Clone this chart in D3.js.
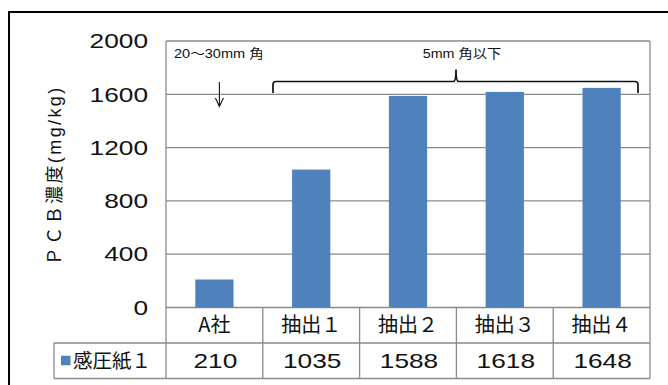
<!DOCTYPE html>
<html>
<head>
<meta charset="utf-8">
<script src="https://cdn.jsdelivr.net/npm/d3@7"></script>
<style>
  html, body { margin: 0; padding: 0; background: #fff; }
  svg { display: block; }
  text { fill: #111; }
</style>
</head>
<body>
<svg id="chart" width="668" height="385"></svg>
<script>
// Chart data
const categories = ["A社", "抽出１", "抽出２", "抽出３", "抽出４"];
const seriesName = "感圧紙１";
const values = [210, 1035, 1588, 1618, 1648];
const yTicks = [0, 400, 800, 1200, 1600, 2000];
const yTitle = "ＰＣＢ濃度(mg/kg)";
const noteLarge = "20～30mm 角";
const noteSmall = "5mm 角以下";

const W = 668, H = 385;
const plot = { left: 166, right: 650, top: 41, bottom: 307.5 };
const rowH = 35.5;
const legendLeft = 54;
const barColor = "#4f81bd";
const gridColor = "#8a8a8a";
const numFont = "'Liberation Sans', 'Noto Sans CJK JP', sans-serif";
const jpFont = "'Noto Sans CJK JP', 'Liberation Sans', sans-serif";
const stretch = 1.25; // wide numerals

const svg = d3.select("#chart");

// Outer chart frame
svg.append("path")
  .attr("d", `M9,${H + 2} V12 H${W + 2}`)
  .attr("fill", "none").attr("stroke", "#000").attr("stroke-width", 2);

const x = d3.scaleBand().domain(categories).range([plot.left, plot.right]).padding(0);
const y = d3.scaleLinear().domain([0, 2000]).range([plot.bottom, plot.top]);
const barW = x.bandwidth() * 0.395;

// Gridlines
svg.append("g").selectAll("line").data(yTicks).join("line")
  .attr("x1", plot.left).attr("x2", plot.right)
  .attr("y1", d => y(d)).attr("y2", d => y(d))
  .attr("stroke", gridColor).attr("stroke-width", 1.3);

// Y axis tick labels
const yAxis = d3.axisLeft(y).tickValues(yTicks).tickSize(0).tickPadding(0).tickFormat(d3.format("d"));
const yg = svg.append("g").attr("transform", `translate(${plot.left},0)`).call(yAxis);
yg.select(".domain").remove();
yg.selectAll("text")
  .attr("x", 0)
  .attr("transform", `translate(-18,0) scale(${stretch},1)`)
  .attr("font-family", numFont).attr("font-size", 21)
  .attr("letter-spacing", 0).attr("fill", "#111");

// Bars
svg.append("g").selectAll("rect").data(values).join("rect")
  .attr("x", (d, i) => x(categories[i]) + (x.bandwidth() - barW) / 2)
  .attr("width", barW)
  .attr("y", d => y(d))
  .attr("height", d => y(0) - y(d))
  .attr("fill", barColor);

// Plot frame and data table grid
const tableTop = plot.bottom, row1 = tableTop + rowH, row2 = row1 + rowH;
const frame = svg.append("g").attr("stroke", gridColor).attr("stroke-width", 1.3).attr("fill", "none");
frame.append("line").attr("x1", plot.left).attr("x2", plot.left).attr("y1", plot.top).attr("y2", row2);
frame.append("line").attr("x1", plot.right).attr("x2", plot.right).attr("y1", plot.top).attr("y2", row2);
frame.append("line").attr("x1", legendLeft).attr("x2", plot.right).attr("y1", row1).attr("y2", row1);
frame.append("line").attr("x1", legendLeft).attr("x2", plot.right).attr("y1", row2).attr("y2", row2);
frame.append("line").attr("x1", legendLeft).attr("x2", legendLeft).attr("y1", row1).attr("y2", row2);
frame.selectAll("line.div").data(categories.slice(1)).join("line").attr("class", "div")
  .attr("x1", d => x(d)).attr("x2", d => x(d)).attr("y1", tableTop).attr("y2", row2);

// Category labels
svg.append("g").selectAll("text").data(categories).join("text")
  .attr("x", d => x(d) + x.bandwidth() / 2)
  .attr("y", tableTop + rowH / 2)
  .attr("dy", "0.36em")
  .attr("text-anchor", "middle")
  .attr("font-family", jpFont).attr("font-size", 20)
  .text(d => d);

// Value row
svg.append("g").selectAll("text").data(values).join("text")
  .attr("transform", (d, i) => `translate(${x(categories[i]) + x.bandwidth() / 2 + 1},${row1 + rowH / 2}) scale(${stretch},1)`)
  .attr("dy", "0.36em")
  .attr("text-anchor", "middle")
  .attr("font-family", numFont).attr("font-size", 21)
  .text(d => d);

// Legend key
svg.append("rect").attr("x", 61).attr("y", row1 + rowH / 2 - 5).attr("width", 9.5).attr("height", 9.5)
  .attr("fill", barColor);
svg.append("text").attr("x", 73).attr("y", row1 + rowH / 2).attr("dy", "0.36em")
  .attr("font-family", jpFont).attr("font-size", 19.5)
  .text(seriesName);

// Y axis title
svg.append("text")
  .attr("transform", `translate(61,${(plot.top + plot.bottom) / 2 + 1}) rotate(-90)`)
  .attr("text-anchor", "middle")
  .attr("font-family", numFont).attr("font-size", 18)
  .attr("letter-spacing", 2.4)
  .text(yTitle);

// Annotations
svg.append("text").attr("transform", "translate(174,58) scale(1.12,1)")
  .attr("font-family", numFont).attr("font-size", 13).text(noteLarge);
svg.append("text").attr("transform", "translate(462,58) scale(1.1,1)").attr("text-anchor", "middle")
  .attr("font-family", numFont).attr("font-size", 13).text(noteSmall);

// Down arrow under the first label
const ax = x(categories[0]) + x.bandwidth() / 2 + 5;
svg.append("path")
  .attr("d", `M${ax},82 V106 M${ax - 4},98 L${ax},106.5 L${ax + 4},98`)
  .attr("fill", "none").attr("stroke", "#111").attr("stroke-width", 1.1);

// Brace spanning the extraction groups
const bx0 = 273, bx1 = 638, bm = 456, by = 81.5, byEnd = 93;
svg.append("path")
  .attr("d", `M${bx0},${byEnd} V${by + 3} Q${bx0},${by} ${bx0 + 3},${by} H${bm - 2.5} Q${bm},${by} ${bm},${by - 12} Q${bm},${by} ${bm + 2.5},${by} H${bx1 - 3} Q${bx1},${by} ${bx1},${by + 3} V${byEnd}`)
  .attr("fill", "none").attr("stroke", "#111").attr("stroke-width", 1.7);
</script>
</body>
</html>
